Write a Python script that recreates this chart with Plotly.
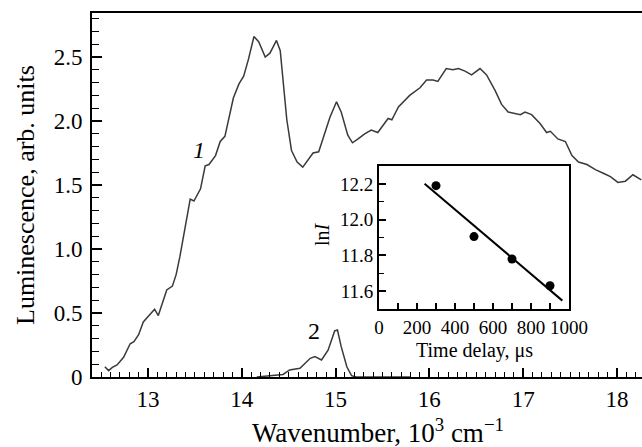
import numpy as np
import plotly.graph_objects as go

# ---- main spectrum data (wavenumber in 10^3 cm^-1, luminescence arb. units)
curve1_x = [12.54,12.58,12.62,12.67,12.74,12.81,12.85,12.90,12.95,13.01,13.07,13.11,13.15,13.20,13.26,13.30,13.34,13.40,13.45,13.49,
            13.56,13.61,13.65,13.72,13.77,13.82,13.86,13.91,13.97,14.02,14.07,14.13,14.18,14.25,14.30,14.37,14.41,14.44,14.48,14.53,
            14.59,14.65,14.71,14.76,14.82,14.87,14.94,15.01,15.06,15.13,15.18,15.24,15.31,15.38,15.45,15.56,15.60,15.67,15.79,15.90,
            15.97,16.04,16.09,16.18,16.25,16.31,16.38,16.45,16.54,16.61,16.70,16.77,16.84,16.97,17.02,17.09,17.18,17.25,17.29,17.37,
            17.45,17.52,17.59,17.68,17.77,17.86,17.93,18.01,18.09,18.17,18.26]
curve1_y = [0.08,0.05,0.075,0.094,0.154,0.26,0.276,0.33,0.43,0.48,0.53,0.48,0.57,0.68,0.71,0.80,0.94,1.17,1.39,1.375,
            1.47,1.65,1.66,1.73,1.84,1.88,2.01,2.18,2.29,2.35,2.48,2.66,2.62,2.50,2.53,2.63,2.55,2.32,2.01,1.77,
            1.68,1.64,1.70,1.75,1.76,1.88,2.03,2.15,2.07,1.89,1.83,1.86,1.90,1.93,1.91,2.02,2.01,2.11,2.20,2.26,
            2.32,2.32,2.31,2.41,2.40,2.41,2.39,2.36,2.41,2.36,2.24,2.13,2.07,2.05,2.07,2.05,1.98,1.91,1.92,1.86,
            1.84,1.73,1.68,1.66,1.62,1.59,1.565,1.52,1.53,1.58,1.54]

curve2_x = [14.16,14.30,14.44,14.51,14.62,14.73,14.78,14.85,14.92,14.99,15.02,15.06,15.12,15.17,15.22,15.40,15.80]
curve2_y = [0.0,0.01,0.02,0.055,0.068,0.146,0.159,0.133,0.21,0.36,0.367,0.237,0.08,0.01,0.0,0.0,0.0]

# ---- inset data (time delay in microseconds, ln I)
inset_t = [300, 500, 700, 900]
inset_lnI = [12.19, 11.905, 11.78, 11.63]
fit_t_range = [240, 965]

main_xticks = [13, 14, 15, 16, 17, 18]
main_yticks = [0, 0.5, 1.0, 1.5, 2.0, 2.5]
main_ytext = ["0", "0.5", "1.0", "1.5", "2.0", "2.5"]
inset_xticks = [0, 200, 400, 600, 800, 1000]
inset_yticks = [11.6, 11.8, 12.0, 12.2]
inset_ytext = ["11.6", "11.8", "12.0", "12.2"]

slope, intercept = np.polyfit(inset_t, inset_lnI, 1)
fit_x = np.array(fit_t_range, dtype=float)
fit_y = slope * fit_x + intercept

FONT = "Liberation Serif"
W, H = 642, 447
ML, MT, MR, MB = 92, 13, 0, 70
PW, PH = W - ML - MR, H - MT - MB

def px(x):
    return (x - ML) / PW

def py(y):
    return (H - MB - y) / PH

fig = go.Figure()
fig.add_trace(go.Scatter(x=curve1_x, y=curve1_y, mode="lines",
                         line=dict(color="#3a3a3a", width=1.5), showlegend=False))
fig.add_trace(go.Scatter(x=curve2_x, y=curve2_y, mode="lines",
                         line=dict(color="#3a3a3a", width=1.5), showlegend=False))
fig.add_trace(go.Scatter(x=fit_x, y=fit_y, mode="lines", xaxis="x2", yaxis="y2",
                         line=dict(color="black", width=2), showlegend=False))
fig.add_trace(go.Scatter(x=inset_t, y=inset_lnI, mode="markers", xaxis="x2", yaxis="y2",
                         marker=dict(color="black", size=9), showlegend=False))

tickfont = dict(family=FONT, size=23, color="black")
insetfont = dict(family=FONT, size=19, color="black")

fig.update_layout(
    width=W, height=H,
    margin=dict(l=ML, r=MR, t=MT, b=MB, autoexpand=False),
    paper_bgcolor="white", plot_bgcolor="white",
    xaxis=dict(range=[12.403, 18.267], tickvals=main_xticks, ticks="inside", ticklen=9,
               tickwidth=1.5, tickcolor="black", showline=True, linewidth=2, linecolor="black",
               mirror=True, showgrid=False, zeroline=False, tickfont=tickfont,
               minor=dict(dtick=0.1, ticks="inside", ticklen=5, tickwidth=1.2, tickcolor="black"),
               ticklabelstandoff=0),
    yaxis=dict(range=[0, 2.844], tickvals=main_yticks, ticktext=main_ytext, ticks="inside", ticklen=10,
               tickwidth=1.5, tickcolor="black", showline=True, linewidth=2, linecolor="black",
               mirror=False, showgrid=False, zeroline=False, tickfont=tickfont,
               minor=dict(dtick=0.1, ticks="inside", ticklen=7, tickwidth=1.2, tickcolor="black"),
               ticklabelstandoff=3),
    xaxis2=dict(domain=[px(379), px(569)], anchor="y2", range=[0, 1000], tickvals=inset_xticks,
                ticks="inside", ticklen=6, tickwidth=1.5, tickcolor="black", showline=True,
                linewidth=2, linecolor="black", mirror=True, showgrid=False, zeroline=False,
                tickfont=insetfont,
                minor=dict(dtick=100, ticks="inside", ticklen=6, tickwidth=1.5, tickcolor="black")),
    yaxis2=dict(domain=[py(309), py(166)], anchor="x2", range=[11.5, 12.3], tickvals=inset_yticks,
                ticktext=inset_ytext, ticks="inside", ticklen=7, tickwidth=1.5, tickcolor="black",
                showline=True, linewidth=2, linecolor="black", mirror=True, showgrid=False,
                zeroline=False, tickfont=insetfont,
                minor=dict(dtick=0.1, ticks="inside", ticklen=5, tickwidth=1.2, tickcolor="black"),
                ticklabelstandoff=0),
)

def ann(text, x, y, size, angle=0):
    fig.add_annotation(text=text, x=px(x), y=py(y), xref="paper", yref="paper",
                       showarrow=False, textangle=angle, xanchor="center", yanchor="middle",
                       font=dict(family=FONT, size=size, color="black"))

ann("Wavenumber, 10<sup>3</sup> cm<sup>\u22121</sup>", 378, 431, 27)
ann("Luminescence, arb. units", 25, 195, 26, angle=-90)
ann("ln<i>I</i>", 322, 234, 20, angle=-90)
ann("Time delay, \u03bcs", 474, 350, 20)
ann("<i>1</i>", 199, 150, 24)
ann("2", 314, 331, 24)

fig.write_html("out.html", config={"displayModeBar": False},
               post_script="document.body.style.margin='0';document.body.style.overflow='hidden';")
